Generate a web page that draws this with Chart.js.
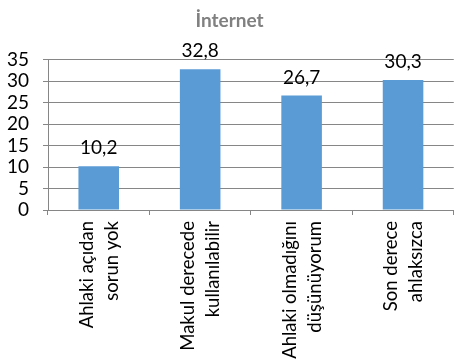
<!DOCTYPE html>
<html><head><meta charset="utf-8">
<script src="https://cdn.jsdelivr.net/npm/chart.js@4"></script>
<style>html,body{margin:0;padding:0;background:#fff}#w{width:459px;height:360px}</style>
</head><body><div id="w"><canvas id="c"></canvas></div>
<script>
const categories = [["Ahlaki açıdan","sorun yok"],["Makul derecede","kullanılabilir"],["Ahlaki olmadığını","düşünüyorum"],["Son derece","ahlaksızca"]];
const values = [10.2, 32.8, 26.7, 30.3];
const yTicks = [0,5,10,15,20,25,30,35];
const titleText = "İnternet";
const FONT = "Lato, 'Open Sans', sans-serif";

const labelPlugin = {
  id:'vals',
  afterDatasetsDraw(chart){
    const ctx = chart.ctx;
    const meta = chart.getDatasetMeta(0);
    ctx.save();
    ctx.font = "19px " + FONT;
    ctx.fillStyle = "#000";
    ctx.textAlign = "center";
    ctx.textBaseline = "middle";
    meta.data.forEach((bar,i)=>{
      ctx.fillText(values[i].toFixed(1).replace('.',','), bar.x, bar.y - 18);
    });
    ctx.restore();
  }
};

new Chart(document.getElementById('c'), {
  type:'bar',
  data:{labels:categories, datasets:[{data:values, backgroundColor:'#5B9BD5', categoryPercentage:1, barPercentage:0.4}]},
  options:{
    responsive:true, maintainAspectRatio:false, animation:false,
    layout:{padding:{left:0,right:0,top:0,bottom:0}},
    plugins:{
      legend:{display:false}, tooltip:{enabled:false},
      title:{display:true, text:titleText, color:'#808080', font:{family:FONT, size:19, weight:'bold'}, padding:{top:9,bottom:28}}
    },
    scales:{
      x:{
        grid:{display:true, drawOnChartArea:false, drawTicks:true, tickLength:5, color:'#868686', offset:true},
        border:{display:true, color:'#868686'},
        ticks:{color:'#000', font:{family:FONT, size:18.5, lineHeight:1.35}, maxRotation:90, minRotation:90, padding:6, labelOffset:-12, autoSkip:false},
        afterFit(s){ s.height = 150; }
      },
      y:{
        min:0, max:35,
        afterBuildTicks(s){ s.ticks = yTicks.map(v=>({value:v})); },
        grid:{color:'#868686', tickLength:5},
        border:{display:true, color:'#868686'},
        ticks:{color:'#000', font:{family:FONT, size:19}, padding:14, autoSkip:false, stepSize:5},
        afterFit(s){ s.width = 48; }
      }
    }
  },
  plugins:[labelPlugin]
});
</script></body></html>
